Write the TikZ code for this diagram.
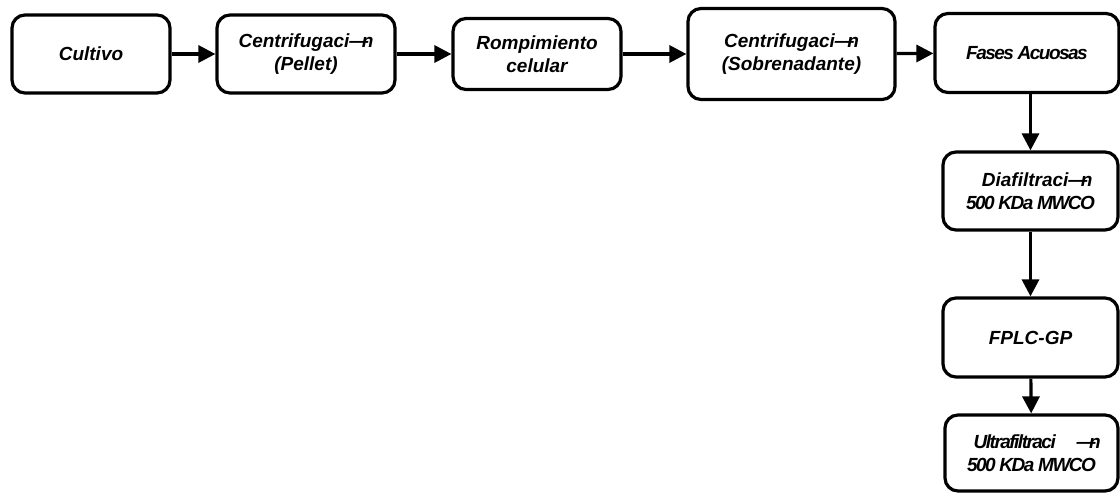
\documentclass[tikz,border=0pt]{standalone}
\usepackage{fontspec}
\setmainfont{Liberation Sans}
\usepackage{tikz}
\usetikzlibrary{arrows.meta}
\newcommand{\tight}{\addfontfeatures{LetterSpace=-8}}
\newcommand{\oacute}{—\kern-.35em n}

\tikzset{
  etapa/.style={draw, line width=3.2pt, rounded corners=13pt, inner sep=0pt,
    align=center, font=\bfseries\itshape\fontsize{19}{23}\selectfont},
  flecha/.style={line width=3.2pt, -{Triangle[length=17pt,width=17pt]}}
}

\begin{document}
\begin{tikzpicture}[x=1pt,y=-1pt]
    \useasboundingbox (0,0) rectangle (1120,493);

    \node[etapa, minimum width=158pt, minimum height=78pt] (cultivo) at (91,54) {Cultivo};
    \node[etapa, minimum width=178pt, minimum height=78pt] (pellet) at (306,54) {Centrifugaci\oacute\\(Pellet)};
    \node[etapa, minimum width=168pt, minimum height=71pt] (rompe) at (537,54) {Rompimiento\\celular};
    \node[etapa, minimum width=207pt, minimum height=91pt] (sobre) at (791.5,54) {Centrifugaci\oacute\\(Sobrenadante)};
    \node[etapa, minimum width=184pt, minimum height=79pt] (fases) at (1027,53) {{\tight Fases Acuosas}};

    \node[etapa, minimum width=175pt, minimum height=78pt] (diaf) at (1030.5,191) {\hspace*{0.7em}Diafiltraci\oacute\\{\tight 500 KDa MWCO}};
    \node[etapa, minimum width=175pt, minimum height=79pt] (fplc) at (1030.5,337.5) {FPLC-GP};
    \node[etapa, minimum width=173pt, minimum height=76pt] (ultra) at (1031.5,453) {\hspace*{0.6em}{\tight Ultrafiltraci}\hspace{1.1em}\oacute\\{\tight 500 KDa MWCO}};

    \draw[flecha] (cultivo) -- (pellet);
    \draw[flecha] (pellet) -- (rompe);
    \draw[flecha] (rompe) -- (sobre);
    \draw[flecha] (sobre) -- (fases);
    \draw[flecha] (fases.south -| diaf.north) -- (diaf.north);
    \draw[flecha] (diaf) -- (fplc);
    \draw[flecha] (fplc) -- (ultra);
  \end{tikzpicture}
\end{document}
